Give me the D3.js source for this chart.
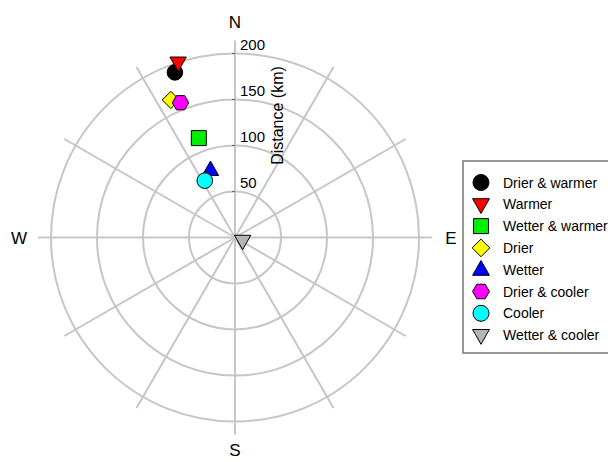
<!DOCTYPE html>
<html>
<head>
<meta charset="utf-8">
<script src="https://cdn.jsdelivr.net/npm/d3@7"></script>
<style>
  body { margin: 0; background: #fff; }
  svg { display: block; font-family: "Liberation Sans", Arial, sans-serif; }
</style>
</head>
<body>
<div id="chart"></div>
<script>
// data (distance in km, bearing in degrees from north)
const groups = ['Drier & warmer', 'Warmer', 'Wetter & warmer', 'Drier', 'Wetter', 'Drier & cooler', 'Cooler', 'Wetter & cooler'];
const distances = [191, 200, 115, 165, 78, 158, 70, 9];
const bearings = [340, 342, 340, 335, 340, 338, 332, 113];
const colors = ['#000000', '#ff0000', '#00ee00', '#ffff00', '#0000ff', '#ff00ff', '#00ffff', '#b4b4b4'];
const shapes = ['circle', 'triDown', 'square', 'diamond', 'triUp', 'hexagon', 'circle', 'triDown'];
const rings = [50, 100, 150, 200];
const compass = [['N', 0], ['E', 90], ['S', 180], ['W', 270]];

const width = 608, height = 462;
const cx = 235, cy = 237.5;

const svg = d3.select('#chart').append('svg')
  .attr('width', width)
  .attr('height', height);

const r = d3.scaleLinear().domain([0, 200]).range([0, 184]);
const rad = d => (d - 90) * Math.PI / 180;

const g = svg.append('g').attr('transform', `translate(${cx},${cy})`);

// rings
g.selectAll('circle.ring')
  .data(rings)
  .join('circle')
  .attr('class', 'ring')
  .attr('r', d => r(d))
  .attr('fill', 'none')
  .attr('stroke', '#c6c6c6')
  .attr('stroke-width', 2);

// spokes every 30 degrees
g.selectAll('line.spoke')
  .data(d3.range(0, 360, 30))
  .join('line')
  .attr('class', 'spoke')
  .attr('x1', 0).attr('y1', 0)
  .attr('x2', d => Math.cos(rad(d)) * 197)
  .attr('y2', d => Math.sin(rad(d)) * 197)
  .attr('stroke', '#c6c6c6')
  .attr('stroke-width', 2);

// small ticks on the north axis
g.selectAll('line.tick')
  .data(rings)
  .join('line')
  .attr('class', 'tick')
  .attr('x1', -3).attr('x2', 0)
  .attr('y1', d => -r(d)).attr('y2', d => -r(d))
  .attr('stroke', '#666')
  .attr('stroke-width', 1);

g.selectAll('text.tlabel')
  .data(rings)
  .join('text')
  .attr('class', 'tlabel')
  .attr('x', 5)
  .attr('y', d => -r(d) - 4)
  .style('font-size', '15px')
  .text(d => d);

g.append('text')
  .attr('transform', 'translate(48,-122) rotate(-90)')
  .attr('text-anchor', 'middle')
  .style('font-size', '16px')
  .text('Distance (km)');

// compass labels (S pulled in a little so it stays inside the frame)
const labelR = d => d[0] === 'S' ? 212 : 216;
g.selectAll('text.compass')
  .data(compass)
  .join('text')
  .attr('class', 'compass')
  .attr('x', d => Math.cos(rad(d[1])) * labelR(d))
  .attr('y', d => Math.sin(rad(d[1])) * labelR(d))
  .attr('dy', '0.36em')
  .attr('text-anchor', 'middle')
  .style('font-size', '17px')
  .text(d => d[0]);

// marker shapes
function shapePath(type, s) {
  if (type === 'circle') {
    return d3.symbol(d3.symbolCircle, Math.PI * s * s)();
  }
  let pts;
  if (type === 'square') pts = [[-s, -s], [s, -s], [s, s], [-s, s]];
  if (type === 'diamond') pts = [[0, -s * 1.1], [s * 1.1, 0], [0, s * 1.1], [-s * 1.1, 0]];
  if (type === 'triUp') pts = [[0, -s * 1.15], [s * 1.05, s * 0.7], [-s * 1.05, s * 0.7]];
  if (type === 'triDown') pts = [[0, s * 1.15], [s * 1.05, -s * 0.7], [-s * 1.05, -s * 0.7]];
  if (type === 'hexagon') pts = d3.range(6).map(i => [Math.cos(Math.PI / 6 + i * Math.PI / 3) * s * 1.05, Math.sin(Math.PI / 6 + i * Math.PI / 3) * s * 1.05]).map(p => [p[1], p[0]]);
  return 'M' + pts.map(p => p.join(',')).join('L') + 'Z';
}

const pts = groups.map((name, i) => ({
  name,
  dist: distances[i],
  bearing: bearings[i],
  color: colors[i],
  shape: shapes[i]
}));

g.selectAll('path.pt')
  .data(pts)
  .join('path')
  .attr('class', 'pt')
  .attr('transform', d => `translate(${Math.cos(rad(d.bearing)) * r(d.dist)},${Math.sin(rad(d.bearing)) * r(d.dist)})`)
  .attr('d', d => shapePath(d.shape, d.shape === 'square' ? 7.5 : 7.8))
  .attr('fill', d => d.color)
  .attr('stroke', '#000')
  .attr('stroke-width', 1);

// legend
const legend = svg.append('g').attr('transform', 'translate(463,161)');
legend.append('rect')
  .attr('x', 0).attr('y', 0)
  .attr('width', 160).attr('height', 192)
  .attr('fill', '#fff')
  .attr('stroke', '#777')
  .attr('stroke-width', 1.5);

const item = legend.selectAll('g.item')
  .data(pts)
  .join('g')
  .attr('class', 'item')
  .attr('transform', (d, i) => `translate(18,${21.5 + i * 21.8})`);

item.append('path')
  .attr('d', d => shapePath(d.shape, d.shape === 'square' ? 7.5 : 8))
  .attr('fill', d => d.color)
  .attr('stroke', '#000')
  .attr('stroke-width', 1);

item.append('text')
  .attr('x', 22)
  .attr('y', 5)
  .style('font-size', '14px')
  .text(d => d.name);
</script>
</body>
</html>
